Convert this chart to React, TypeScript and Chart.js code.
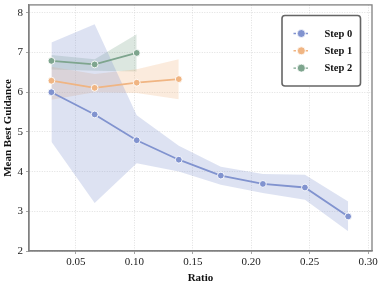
import React, { useEffect, useRef } from "react";
import { Chart, registerables } from "chart.js";

Chart.register(...registerables);

const ratios = [0.029, 0.066, 0.102, 0.138, 0.174, 0.21, 0.246, 0.283];
const step0 = [6.0, 5.44, 4.79, 4.3, 3.9, 3.69, 3.6, 2.87];
const step0Upper = [7.25, 7.71, 5.42, 4.65, 4.12, 3.94, 3.92, 3.25];
const step0Lower = [4.75, 3.21, 4.21, 4.0, 3.67, 3.46, 3.29, 2.5];
const step1 = [6.29, 6.11, 6.24, 6.33];
const step1Upper = [6.64, 6.46, 6.58, 6.83];
const step1Lower = [5.81, 6.0, 5.98, 5.82];
const step2 = [6.79, 6.7, 6.99];
const step2Upper = [6.94, 6.83, 7.46];
const step2Lower = [6.57, 6.54, 6.52];
const seriesNames = ["Step 0", "Step 1", "Step 2"];
const colors = ["#8193cf", "#f0b583", "#7ea58e"];
const bandColors = ["rgba(129,147,207,0.27)", "rgba(240,181,131,0.27)", "rgba(126,165,142,0.27)"];

const FONT = "'Liberation Serif', 'Times New Roman', serif";

const pts = (ys: number[]) => ys.map((y, i) => ({ x: ratios[i], y }));

const frameLegendPlugin = {
  id: "frameLegend",
  afterDraw(chart: any) {
    const { ctx, chartArea } = chart;
    ctx.save();
    ctx.strokeStyle = "#808080";
    ctx.lineWidth = 1.3;
    ctx.strokeRect(chartArea.left, chartArea.top, chartArea.right - chartArea.left, chartArea.bottom - chartArea.top);
    // legend
    const x0 = 282, y0 = 15.5, w = 78.5, h = 70.5, r = 3;
    ctx.beginPath();
    ctx.moveTo(x0 + r, y0);
    ctx.arcTo(x0 + w, y0, x0 + w, y0 + h, r);
    ctx.arcTo(x0 + w, y0 + h, x0, y0 + h, r);
    ctx.arcTo(x0, y0 + h, x0, y0, r);
    ctx.arcTo(x0, y0, x0 + w, y0, r);
    ctx.closePath();
    ctx.fillStyle = "#ffffff";
    ctx.fill();
    ctx.strokeStyle = "#666666";
    ctx.lineWidth = 1.6;
    ctx.stroke();
    seriesNames.forEach((name, i) => {
      const cy = 33.5 + i * 17.3;
      ctx.setLineDash([2.5, 1.5]);
      ctx.strokeStyle = colors[i];
      ctx.lineWidth = 1.4;
      ctx.beginPath();
      ctx.moveTo(293.5, cy);
      ctx.lineTo(309, cy);
      ctx.stroke();
      ctx.setLineDash([]);
      ctx.beginPath();
      ctx.arc(301.3, cy, 4, 0, Math.PI * 2);
      ctx.fillStyle = colors[i];
      ctx.fill();
      ctx.strokeStyle = "#ffffff";
      ctx.lineWidth = 0.8;
      ctx.stroke();
      ctx.fillStyle = "#111111";
      ctx.font = `bold 10.5px ${FONT}`;
      ctx.textBaseline = "middle";
      ctx.textAlign = "left";
      ctx.fillText(name, 324.5, cy + 0.5);
    });
    ctx.restore();
  },
};

export default function App() {
  const ref = useRef<HTMLCanvasElement | null>(null);
  useEffect(() => {
    document.body.style.margin = "0";
    const canvas = ref.current;
    if (!canvas) return;
    const mains = [step0, step1, step2];
    const uppers = [step0Upper, step1Upper, step2Upper];
    const lowers = [step0Lower, step1Lower, step2Lower];
    const datasets: any[] = [];
    mains.forEach((m, i) => {
      datasets.push({
        label: seriesNames[i],
        data: pts(m),
        borderColor: colors[i],
        backgroundColor: colors[i],
        borderWidth: 1.8,
        pointRadius: 3.4,
        pointBorderColor: "#ffffff",
        pointBorderWidth: 0.9,
        pointBackgroundColor: colors[i],
        fill: false,
        order: 0,
      });
    });
    mains.forEach((_m, i) => {
      datasets.push({
        label: seriesNames[i] + " upper",
        data: pts(uppers[i]),
        borderWidth: 0,
        borderColor: "rgba(0,0,0,0)",
        pointRadius: 0,
        backgroundColor: bandColors[i],
        fill: "+1",
        order: 10,
      });
      datasets.push({
        label: seriesNames[i] + " lower",
        data: pts(lowers[i]),
        borderWidth: 0,
        borderColor: "rgba(0,0,0,0)",
        pointRadius: 0,
        backgroundColor: bandColors[i],
        fill: false,
        order: 10,
      });
    });
    const chart = new Chart(canvas, {
      type: "line",
      data: { datasets },
      plugins: [frameLegendPlugin],
      options: {
        animation: false,
        responsive: false,
        maintainAspectRatio: false,
        layout: { padding: { left: 0, right: 9, top: 3, bottom: 0 } },
        plugins: { legend: { display: false }, tooltip: { enabled: false } },
        elements: { line: { tension: 0 } },
        scales: {
          x: {
            type: "linear",
            min: 0.0098,
            max: 0.3034,
            ticks: {
              stepSize: 0.05,
              includeBounds: false,
              color: "#222",
              font: { family: FONT, size: 11 },
              padding: 2,
              maxRotation: 0,
              callback: (v: any) => Number(v).toFixed(2),
            },
            grid: { color: "#d2d2d2", tickColor: "#808080", tickLength: 3, lineWidth: 0.7 },
            border: { display: true, color: "#808080", width: 1.3, dash: [1, 1.5] },
            title: { display: true, text: "Ratio", color: "#111", font: { family: FONT, size: 11, weight: "bold" }, padding: { top: 4, bottom: 0 } },
            afterFit: (s: any) => {
              s.height = 34;
              s.paddingLeft = 0;
              s.paddingRight = 0;
            },
          },
          y: {
            min: 2,
            max: 8.2,
            ticks: {
              stepSize: 1,
              includeBounds: false,
              color: "#222",
              font: { family: FONT, size: 11 },
              padding: 3,
            },
            grid: { color: "#d2d2d2", tickColor: "#808080", tickLength: 3, lineWidth: 0.7 },
            border: { display: true, color: "#808080", width: 1.3, dash: [1, 1.5] },
            title: { display: true, text: "Mean Best Guidance", color: "#111", font: { family: FONT, size: 11, weight: "bold" }, padding: { top: 2, bottom: 0 } },
            afterFit: (s: any) => {
              s.width = 29;
              s.paddingTop = 0;
              s.paddingBottom = 0;
            },
          },
        },
      } as any,
    });
    return () => chart.destroy();
  }, []);
  return (
    <div style={{ width: 381, height: 285 }}>
      <canvas ref={ref} width={381} height={285} style={{ display: "block", width: 381, height: 285 }} />
    </div>
  );
}
